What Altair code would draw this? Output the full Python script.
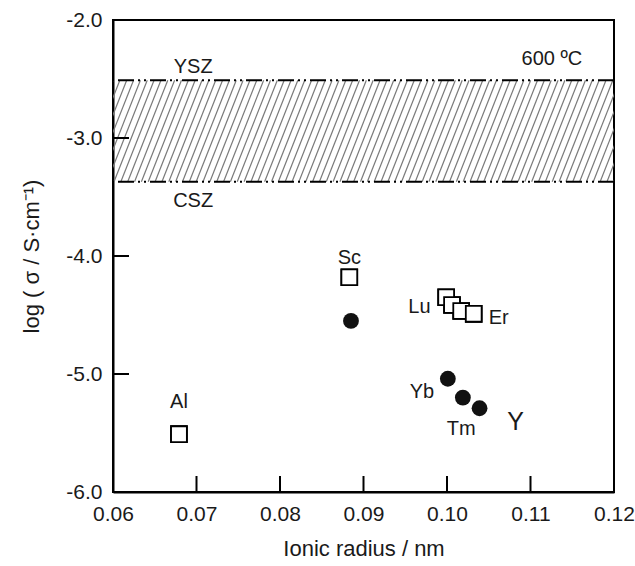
import altair as alt
import pandas as pd

# ---- data ----
sq_x = [0.0679, 0.0883, 0.0999, 0.1006, 0.1017, 0.1032]
sq_y = [-5.51, -4.18, -4.35, -4.415, -4.466, -4.49]
circ_x = [0.0885, 0.1001, 0.1019, 0.1039]
circ_y = [-4.55, -5.04, -5.20, -5.29]

lbl_text = ["Sc", "Al", "Lu", "Er", "Yb", "Tm"]
lbl_x = [0.0883, 0.0679, 0.0967, 0.1062, 0.0970, 0.1017]
lbl_y = [-4.02, -5.24, -4.43, -4.525, -5.15, -5.47]

big_text = ["Y"]
big_x = [0.1082]
big_y = [-5.41]

band_top = -2.51
band_bottom = -3.37
band_text = ["YSZ", "CSZ"]
band_text_x = [0.0696, 0.0696]
band_text_y = [-2.40, -3.53]
temp_text = ["600 ºC"]
temp_x = [0.1162]
temp_y = [-2.33]

x_ticks = [0.06, 0.07, 0.08, 0.09, 0.10, 0.11, 0.12]
y_ticks = [-6.0, -5.0, -4.0, -3.0, -2.0]
inner_x_ticks = [0.07, 0.08, 0.09, 0.10, 0.11]
inner_y_ticks = [-5.0, -4.0, -3.0]

W, H = 501, 472
FONT = "Liberation Sans"
TXT = "#1a1a1a"

xs = alt.Scale(domain=[0.06, 0.12], nice=False, zero=False)
ys = alt.Scale(domain=[-6.0, -2.0], nice=False, zero=False)

# hatch decoration for the band (style, not data)
hatch_run = 0.0048
hatch_step = 0.00082
hx = []
v = 0.06 - hatch_run
while v < 0.12 + hatch_step:
    hx.append(v)
    v += hatch_step
hatch = pd.DataFrame({"x": hx, "x2": [a + hatch_run for a in hx],
                      "y": [band_bottom] * len(hx), "y2": [band_top] * len(hx)})

X = alt.X("x:Q", scale=xs,
          axis=alt.Axis(values=x_ticks, format=".2f", title="Ionic radius / nm",
                        ticks=False, grid=False, labelFlush=False,
                        labelPadding=11, titlePadding=14))
Y = alt.Y("y:Q", scale=ys,
          axis=alt.Axis(values=y_ticks, title="log ( σ / S·cm⁻¹)", ticks=False, grid=False,
                        labelFlush=False,
                        labelExpr="(datum.value < 0 ? '-' : '') + format(abs(datum.value), '.1f')",
                        labelPadding=11, titlePadding=22))

hatch_layer = alt.Chart(hatch).mark_rule(color="#7a7a7a", strokeWidth=1.2, clip=True).encode(
    x=alt.X("x:Q", scale=xs), x2="x2:Q",
    y=alt.Y("y:Q", scale=ys), y2="y2:Q")

edges = alt.Chart(pd.DataFrame({"y": [band_top, band_bottom]})).mark_rule(
    color="black", strokeWidth=2, strokeDash=[16, 4, 2, 4, 2, 4]).encode(
    y=alt.Y("y:Q", scale=ys))

base_sq = pd.DataFrame({"x": sq_x, "y": sq_y})
squares = alt.Chart(base_sq).mark_point(shape="square", size=250, filled=True,
                                        fill="white", stroke="black", strokeWidth=1.8,
                                        opacity=1).encode(x=X, y=Y)

circles = alt.Chart(pd.DataFrame({"x": circ_x, "y": circ_y})).mark_circle(
    size=250, color="#111111", opacity=1).encode(
    x=alt.X("x:Q", scale=xs), y=alt.Y("y:Q", scale=ys))

labels = alt.Chart(pd.DataFrame({"x": lbl_x, "y": lbl_y, "t": lbl_text})).mark_text(
    font=FONT, fontSize=20, color=TXT, baseline="middle", align="center").encode(
    x=alt.X("x:Q", scale=xs), y=alt.Y("y:Q", scale=ys), text="t:N")

big = alt.Chart(pd.DataFrame({"x": big_x, "y": big_y, "t": big_text})).mark_text(
    font=FONT, fontSize=25, color=TXT, baseline="middle", align="center").encode(
    x=alt.X("x:Q", scale=xs), y=alt.Y("y:Q", scale=ys), text="t:N")

band_lbl = alt.Chart(pd.DataFrame({"x": band_text_x, "y": band_text_y, "t": band_text})).mark_text(
    font=FONT, fontSize=20, color=TXT, baseline="middle", align="center").encode(
    x=alt.X("x:Q", scale=xs), y=alt.Y("y:Q", scale=ys), text="t:N")

temp_lbl = alt.Chart(pd.DataFrame({"x": temp_x, "y": temp_y, "t": temp_text})).mark_text(
    font=FONT, fontSize=20, color=TXT, baseline="middle", align="right").encode(
    x=alt.X("x:Q", scale=xs), y=alt.Y("y:Q", scale=ys), text="t:N")

xt = alt.Chart(pd.DataFrame({"x": inner_x_ticks})).mark_rule(color="black", strokeWidth=2).encode(
    x=alt.X("x:Q", scale=xs), y=alt.value(H), y2=alt.value(H - 16))
yt = alt.Chart(pd.DataFrame({"y": inner_y_ticks})).mark_rule(color="black", strokeWidth=2).encode(
    y=alt.Y("y:Q", scale=ys), x=alt.value(0), x2=alt.value(16))

chart = alt.layer(squares, hatch_layer, edges, circles, labels, big, band_lbl, temp_lbl, xt, yt,
                  squares).properties(
    width=W, height=H,
    autosize=alt.AutoSizeParams(type="none"),
    padding={"left": 113, "top": 20, "right": 635 - 113 - W, "bottom": 566 - 20 - H},
    background="white",
).configure_view(stroke="black", strokeWidth=2).configure_axis(
    domainColor="black", domainWidth=2, labelFont=FONT, titleFont=FONT,
    labelFontSize=21, titleFontSize=22, labelColor=TXT, titleColor=TXT,
    titleFontWeight="normal")

chart.save("out.html", embed_options={"renderer": "svg", "actions": False})
